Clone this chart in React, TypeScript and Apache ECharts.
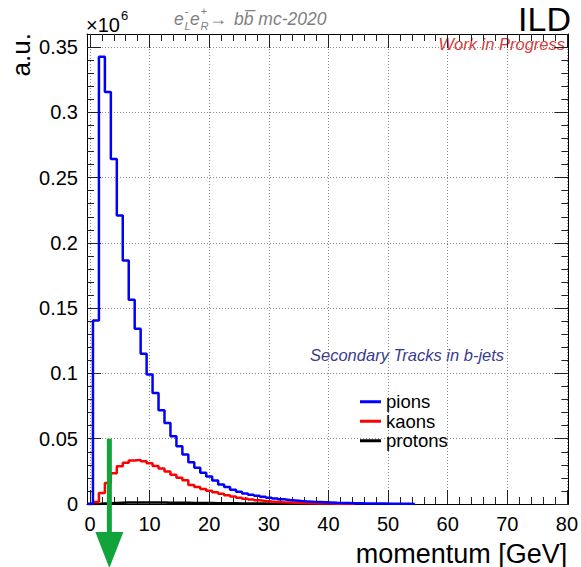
import React, { useEffect, useRef } from 'react';
import * as echarts from 'echarts';

// Histogram contents per 1 GeV bin (bin k covers [k-0.5, k+0.5]), in units of 10^6
const pions = [
  0, 0.1405, 0.3425, 0.3155, 0.2643, 0.221, 0.1865, 0.1565, 0.1343, 0.1151,
  0.0991, 0.0851, 0.0718, 0.0621, 0.0519, 0.0442, 0.0379, 0.032, 0.0278, 0.024,
  0.021, 0.018, 0.015, 0.013, 0.011, 0.0094, 0.008, 0.007, 0.0063, 0.0055,
  0.0048, 0.0042, 0.0036, 0.0031, 0.0027, 0.0023, 0.002, 0.0017, 0.0015, 0.0013,
  0.0011, 0.0009, 0.0008, 0.0007, 0.0006, 0.0005, 0.0004, 0.0004, 0.0003, 0.0003,
  0.0002, 0.0002, 0.0002, 0.0001, 0,
];
const kaons = [
  0, 0.0015, 0.0085, 0.016, 0.0235, 0.029, 0.0316, 0.0334, 0.0338, 0.0328,
  0.0312, 0.0292, 0.0272, 0.0248, 0.0224, 0.0202, 0.0181, 0.0145, 0.013, 0.0115,
  0.0102, 0.009, 0.0078, 0.0067, 0.0057, 0.0048, 0.004, 0.0034, 0.0028, 0.0023,
  0.0019, 0.0016, 0.0013, 0.0011, 0.0009, 0.0007, 0.0006, 0.0005, 0.0004, 0.0003,
  0.0003, 0.0002, 0.0002, 0.0001, 0,
];
const protons = [
  0, 0, 0.0003, 0.0006, 0.0008, 0.001, 0.0011, 0.0012, 0.0012, 0.0012,
  0.0012, 0.0011, 0.0011, 0.001, 0.001, 0.0009, 0.0009, 0.0008, 0.0008, 0.0007,
  0.0007, 0.0006, 0.0006, 0.0005, 0.0005, 0.0004, 0.0004, 0.0003, 0.0003, 0.0003,
  0.0002, 0.0002, 0.0002, 0.0001, 0.0001, 0.0001, 0,
];
const seriesNames = ['pions', 'kaons', 'protons'];
const seriesColors = ['#0000ff', '#ff0000', '#000000'];

const cutMomentum = [3.25];
const cutHeight = [0.05];

const xMajorTicks = [0, 10, 20, 30, 40, 50, 60, 70, 80];
const yMajorTicks = [0, 0.05, 0.1, 0.15, 0.2, 0.25, 0.3, 0.35];
const X_MIN = -0.5;
const X_MAX = 80.25;
const Y_MIN = 0;
const Y_MAX = 0.36;

const FONT = 'Liberation Sans, Arial, Helvetica, sans-serif';

function minorsOf(majors: number[], div: number): number[] {
  const out: number[] = [];
  for (let i = 0; i < majors.length - 1; i++) {
    const step = (majors[i + 1] - majors[i]) / div;
    for (let k = 1; k < div; k++) out.push(+(majors[i] + k * step).toFixed(4));
  }
  return out;
}

function histPoints(values: number[]): number[][] {
  const pts = values.map((v, i) => [i - 0.5, v]);
  pts.push([values.length - 0.5, 0]);
  return pts;
}

const App: React.FC = () => {
  const ref = useRef<HTMLDivElement>(null);

  useEffect(() => {
    if (!ref.current) return;
    const chart = echarts.init(ref.current, undefined, { renderer: 'svg' });
    const xMinor = minorsOf(xMajorTicks, 5);
    const yMinor = minorsOf(yMajorTicks, 5);
    const gridLine = { show: true, lineStyle: { color: '#888', type: [1, 2] as any, width: 1 } };
    const frameLine = { show: true, onZero: false, lineStyle: { color: '#000', width: 1 } };
    const noLine = { show: false, onZero: false };
    const tickStyle = { color: '#222', width: 1 };

    const xBase = { type: 'value', min: X_MIN, max: X_MAX, splitNumber: 8 };
    const yBase = { type: 'value', min: Y_MIN, max: Y_MAX, splitNumber: 7 };

    const xAxis: any[] = [
      {
        ...xBase, position: 'bottom',
        axisLine: frameLine,
        axisTick: { show: true, inside: true, length: 14, customValues: xMajorTicks, lineStyle: tickStyle },
        axisLabel: { show: true, customValues: xMajorTicks, fontSize: 20, color: '#000', margin: 10, fontFamily: FONT },
        splitLine: gridLine,
        name: 'momentum [GeV]', nameLocation: 'end', nameGap: -1,
        nameTextStyle: { fontSize: 27, color: '#000', fontFamily: FONT, align: 'right', verticalAlign: 'top', padding: [36, 0, 0, 0] },
      },
      {
        ...xBase, position: 'bottom',
        axisLine: noLine,
        axisTick: { show: true, inside: true, length: 7, customValues: xMinor, lineStyle: tickStyle },
        axisLabel: { show: false }, splitLine: { show: false },
      },
      {
        ...xBase, position: 'top',
        axisLine: frameLine,
        axisTick: { show: true, inside: true, length: 14, customValues: xMajorTicks, lineStyle: tickStyle },
        axisLabel: { show: false }, splitLine: { show: false },
      },
      {
        ...xBase, position: 'top',
        axisLine: noLine,
        axisTick: { show: true, inside: true, length: 7, customValues: xMinor, lineStyle: tickStyle },
        axisLabel: { show: false }, splitLine: { show: false },
      },
    ];
    const yAxis: any[] = [
      {
        ...yBase, position: 'left',
        axisLine: frameLine,
        axisTick: { show: true, inside: true, length: 14, customValues: yMajorTicks, lineStyle: tickStyle },
        axisLabel: {
          show: true, customValues: yMajorTicks, fontSize: 20, color: '#000', margin: 9, fontFamily: FONT,
          formatter: (v: number) => String(parseFloat(Number(v).toFixed(2))),
        },
        splitLine: gridLine,
      },
      {
        ...yBase, position: 'left',
        axisLine: noLine,
        axisTick: { show: true, inside: true, length: 7, customValues: yMinor, lineStyle: tickStyle },
        axisLabel: { show: false }, splitLine: { show: false },
      },
      {
        ...yBase, position: 'right',
        axisLine: frameLine,
        axisTick: { show: true, inside: true, length: 14, customValues: yMajorTicks, lineStyle: tickStyle },
        axisLabel: { show: false }, splitLine: { show: false },
      },
      {
        ...yBase, position: 'right',
        axisLine: noLine,
        axisTick: { show: true, inside: true, length: 7, customValues: yMinor, lineStyle: tickStyle },
        axisLabel: { show: false }, splitLine: { show: false },
      },
    ];

    const histSeries = [pions, kaons, protons].map((vals, i) => ({
      name: seriesNames[i],
      type: 'line',
      step: 'end',
      xAxisIndex: 0,
      yAxisIndex: 0,
      data: histPoints(vals),
      symbol: 'none',
      showSymbol: false,
      color: seriesColors[i],
      lineStyle: { color: seriesColors[i], width: 2.5 },
      z: 3 - i + 2,
      silent: true,
    }));

    const green = '#12a33b';
    const arrowSeries = {
      name: 'cut',
      type: 'custom',
      xAxisIndex: 0,
      yAxisIndex: 0,
      silent: true,
      clip: false,
      z: 10,
      data: cutMomentum.map((m, i) => [m, cutHeight[i]]),
      renderItem: (_params: any, api: any) => {
        const top = api.coord([api.value(0), api.value(1)]);
        const base = api.coord([api.value(0), 0]);
        return {
          type: 'group',
          children: [
            { type: 'line', shape: { x1: top[0], y1: top[1], x2: base[0], y2: base[1] + 30 }, style: { stroke: green, lineWidth: 5 } },
            {
              type: 'polygon',
              shape: { points: [[base[0] - 14, base[1] + 28], [base[0] + 14, base[1] + 28], [base[0], base[1] + 64]] },
              style: { fill: green },
            },
          ],
        };
      },
    };

    const gray = '#7f7f7f';
    const procFont = { fontSize: 17.5, fontStyle: 'italic', fontFamily: FONT, fill: gray, verticalAlign: 'middle' };
    const subFont = { fontSize: 11, fontStyle: 'italic', fontFamily: FONT, fill: gray, verticalAlign: 'middle' };

    const option: any = {
      animation: false,
      backgroundColor: '#ffffff',
      textStyle: { fontFamily: FONT },
      grid: { left: 87, top: 34, right: 11, bottom: 62 },
      legend: {
        data: seriesNames,
        orient: 'vertical',
        left: 360,
        top: 392,
        padding: 0,
        itemGap: 0,
        itemWidth: 21,
        itemHeight: 3,
        icon: 'rect',
        selectedMode: false,
        textStyle: { fontSize: 18.5, color: '#000', lineHeight: 19.5, fontFamily: FONT },
      },
      xAxis,
      yAxis,
      series: [...histSeries, arrowSeries],
      graphic: [
        { type: 'text', x: 21, y: 33, rotation: Math.PI / 2, style: { text: 'a.u.', fontSize: 26, fontFamily: FONT, fill: '#000', align: 'right', verticalAlign: 'middle' } },
        { type: 'text', x: 86, y: 25, style: { text: '×10', fontSize: 20, fontFamily: FONT, fill: '#000', verticalAlign: 'middle' } },
        { type: 'text', x: 121, y: 15, style: { text: '6', fontSize: 13, fontFamily: FONT, fill: '#000', verticalAlign: 'middle' } },
        { type: 'text', x: 174, y: 19, style: { ...procFont, text: 'e' } },
        { type: 'text', x: 184.5, y: 25.5, style: { ...subFont, text: 'L' } },
        { type: 'text', x: 184.5, y: 10.5, style: { ...subFont, text: '-' } },
        { type: 'text', x: 190, y: 19, style: { ...procFont, text: 'e' } },
        { type: 'text', x: 200.5, y: 25.5, style: { ...subFont, text: 'R' } },
        { type: 'text', x: 200.5, y: 10.5, style: { ...subFont, text: '+' } },
        { type: 'text', x: 209, y: 19, style: { ...procFont, fontStyle: 'normal', fontSize: 18, text: '\u2192' } },
        { type: 'text', x: 234, y: 19, style: { ...procFont, text: 'bb\u0305 mc-2020' } },
        { type: 'text', x: 571, y: 19, style: { text: 'ILD', fontSize: 34, fontFamily: FONT, fill: '#000', align: 'right', verticalAlign: 'middle' } },
        { type: 'text', x: 565, y: 44, style: { text: 'Work in Progress', fontSize: 16.5, fontStyle: 'italic', fontFamily: FONT, fill: '#d83a3a', align: 'right', verticalAlign: 'middle' } },
        { type: 'text', x: 310, y: 355, style: { text: 'Secondary Tracks in b-jets', fontSize: 16.5, fontStyle: 'italic', fontFamily: FONT, fill: '#3b3b8e', align: 'left', verticalAlign: 'middle' } },
      ],
    };

    chart.setOption(option);
    return () => {
      chart.dispose();
    };
  }, []);

  return (
    <div
      ref={ref}
      style={{ position: 'absolute', left: 0, top: 0, width: 581, height: 567, background: '#fff' }}
    />
  );
};

export default App;
